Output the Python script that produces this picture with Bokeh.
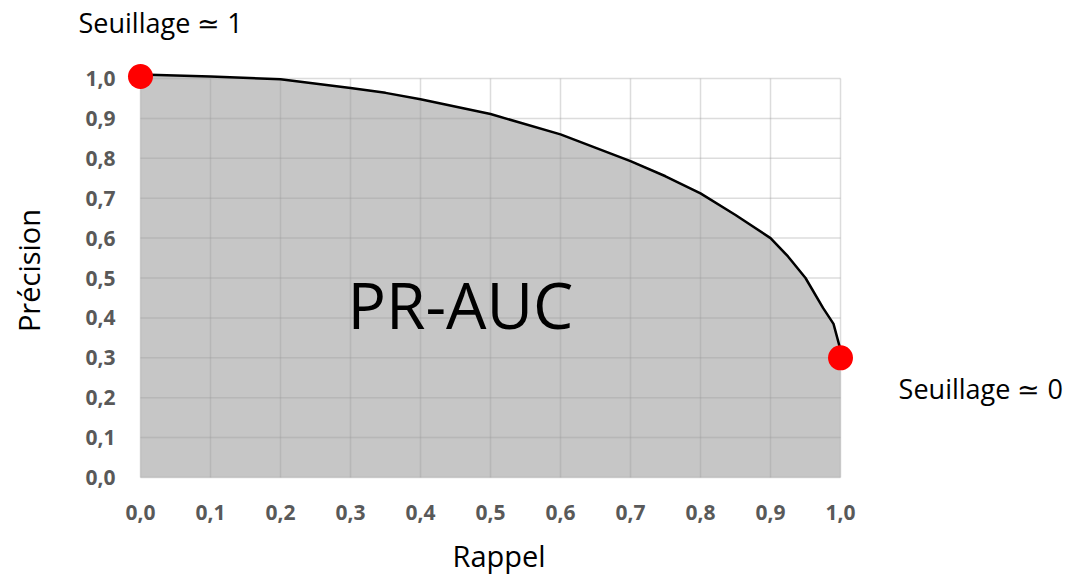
from bokeh.plotting import figure
from bokeh.models import Range1d, Label, Title, CustomJSTickFormatter, FixedTicker
from bokeh.embed import file_html
from bokeh.resources import INLINE

# ---- data ----
recall = [0.0, 0.1, 0.2, 0.3, 0.35, 0.4, 0.5, 0.6, 0.7, 0.75, 0.8, 0.85, 0.9, 0.925, 0.95, 0.975, 0.99, 1.0]
precision = [1.01, 1.005, 0.998, 0.976, 0.964, 0.948, 0.911, 0.86, 0.793, 0.755, 0.712, 0.658, 0.60, 0.554, 0.50, 0.425, 0.385, 0.32]
point_x = [0.0, 1.0]
point_y = [1.005, 0.30]
x_ticks = [0.0, 0.1, 0.2, 0.3, 0.4, 0.5, 0.6, 0.7, 0.8, 0.9, 1.0]
y_ticks = [0.0, 0.1, 0.2, 0.3, 0.4, 0.5, 0.6, 0.7, 0.8, 0.9, 1.0]
x_title = "Rappel"
y_title = "Précision"
area_label = "PR-AUC"
thr_high = "Seuillage ≃ 1"
thr_low = "Seuillage ≃ 0"

FONT = "Open Sans"

p = figure(frame_width=943, frame_height=418, output_backend="svg", toolbar_location=None,
           x_range=Range1d(-0.0257, 1.3214), y_range=Range1d(-0.005, 1.0426),
           min_border_left=122, min_border_right=0, min_border_top=61, min_border_bottom=85)
p.outline_line_color = None
p.xgrid.visible = False
p.ygrid.visible = False
p.background_fill_color = "white"
p.border_fill_color = "white"

# area under curve
p.varea(x=recall, y1=[0] * len(recall), y2=precision, fill_color="#c6c6c6")

# grid lines (drawn on top, semi-transparent)
gx0 = [x_ticks[0]] * len(y_ticks)
gx1 = [x_ticks[-1]] * len(y_ticks)
p.segment(x0=gx0, y0=y_ticks, x1=gx1, y1=y_ticks, line_color="#9a9a9a", line_alpha=0.35, line_width=1.5)
gy0 = [y_ticks[0]] * len(x_ticks)
gy1 = [y_ticks[-1]] * len(x_ticks)
p.segment(x0=x_ticks, y0=gy0, x1=x_ticks, y1=gy1, line_color="#9a9a9a", line_alpha=0.35, line_width=1.5)

# curve
p.line(recall, precision, line_color="black", line_width=2.5)

# threshold points
p.scatter(point_x, point_y, size=25, fill_color="#ff0000", line_color=None)

fmt = CustomJSTickFormatter(code="return tick.toFixed(1).replace('.', ',');")
for ax, ticks in ((p.xaxis[0], x_ticks), (p.yaxis[0], y_ticks)):
    ax.ticker = FixedTicker(ticks=ticks)
    ax.formatter = fmt
    ax.axis_line_color = None
    ax.major_tick_line_color = None
    ax.minor_tick_line_color = None
    ax.major_tick_out = 0
    ax.major_tick_in = 0
    ax.minor_tick_out = 0
    ax.minor_tick_in = 0
    ax.major_label_text_font = FONT
    ax.major_label_text_font_style = "bold"
    ax.major_label_text_font_size = "21px"
    ax.major_label_text_color = "#595959"
    ax.axis_label_text_font = FONT
    ax.axis_label_text_font_style = "normal"
    ax.axis_label_text_font_size = "29px"
    ax.axis_label_text_color = "black"

p.yaxis[0].axis_label = y_title
p.xaxis[0].major_label_standoff = 25
p.yaxis[0].major_label_standoff = 7
p.yaxis[0].axis_label_standoff = 34

p.add_layout(Title(text=x_title, align="left", offset=330, text_font=FONT, text_font_size="29px",
                   text_font_style="normal", text_color="black", standoff=23), "below")
# spacer between the frame and the top annotation
p.add_layout(Title(text=" ", align="left", text_font=FONT, text_font_size="1px",
                   text_color="white", standoff=19), "above")
p.add_layout(Title(text=thr_high, align="left", offset=-44, text_font=FONT, text_font_size="27px",
                   text_font_style="normal", text_color="black", standoff=-6,
                   vertical_align="top"), "above")

p.add_layout(Label(x=0.457, y=0.433, text=area_label, text_font=FONT, text_font_size="64px",
                   text_align="center", text_baseline="middle", text_color="black"))
p.add_layout(Label(x=1.083, y=0.223, text=thr_low, text_font=FONT, text_font_size="27px",
                   text_align="left", text_baseline="middle", text_color="black"))

open("out.html", "w").write(file_html(p, INLINE))
